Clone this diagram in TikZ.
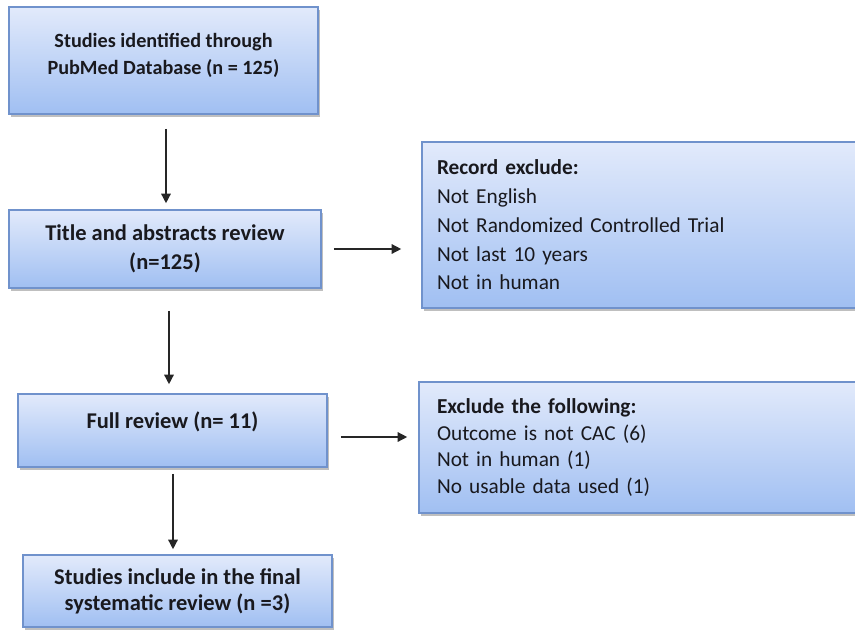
\documentclass[tikz,border=0pt]{standalone}
\usepackage{fontspec}
\setmainfont{Carlito}
\usetikzlibrary{shadows,arrows.meta}
\definecolor{boxtop}{RGB}{226,234,251}
\definecolor{boxbot}{RGB}{160,191,242}
\definecolor{boxline}{RGB}{112,146,204}
\definecolor{txt}{RGB}{25,25,30}
\begin{document}
\begin{tikzpicture}[x=1pt,y=-1pt,
  fbox/.style={rectangle, draw=boxline, line width=1.6pt, top color=boxtop, bottom color=boxbot,
    drop shadow={shadow xshift=2pt, shadow yshift=-3pt, fill=black!55, opacity=0.45},
    text=txt, inner sep=0pt},
  mainbox/.style={fbox, align=center, font=\bfseries\fontsize{22.5}{29}\selectfont},
  sidebox/.style={fbox, align=left, text width=#1, font=\fontsize{21.3}{28.7}\selectfont},
  arr/.style={draw=black!85, line width=1.4pt, -{Triangle[length=9.5pt,width=9.5pt]}}]
\clip (0,0) rectangle (855,630);
\fill[white] (0,0) rectangle (855,630);
\node[mainbox, minimum width=309pt, minimum height=107pt, font=\bfseries\fontsize{20.2}{27}\selectfont] (b1) at (163.5,60.5)
  {Studies identified through\\PubMed Database (n = 125)\\[-13pt]};
\node[mainbox, minimum width=312pt, minimum height=78pt] (b2) at (165,249)
  {Title and abstracts review\\(n=125)};
\node[mainbox, minimum width=309pt, minimum height=73pt] (b3) at (172.5,430.5)
  {Full review (n= 11)\\[-9pt]};
\node[mainbox, minimum width=309pt, minimum height=72pt, font=\bfseries\fontsize{22.5}{26}\selectfont] (b4) at (177.5,591)
  {Studies include in the final\\systematic review (n =3)};
\node[sidebox=430pt, minimum width=460pt, minimum height=166pt] (r1) at (652,225)
  {\textbf{Record exclude:}\\Not English\\Not Randomized Controlled Trial\\Not last 10 years\\Not in human};
\node[sidebox=425pt, minimum width=461pt, minimum height=131pt, font=\fontsize{21.3}{26.7}\selectfont] (r2) at (649.5,447.5)
  {\textbf{Exclude the following:}\\Outcome is not CAC (6)\\Not in human (1)\\No usable data used (1)};
\coordinate (a3) at ([yshift=-6.5pt]b3.east);
\draw[arr, shorten <=14pt, shorten >=6pt] (b1.south -| 166,0) -- (b2.north -| 166,0);
\draw[arr, shorten <=22pt, shorten >=9pt] (b2.south -| 169,0) -- (b3.north -| 169,0);
\draw[arr, shorten <=6pt, shorten >=5pt] (b3.south -| 173,0) -- (b4.north -| 173,0);
\draw[arr, shorten <=12pt, shorten >=20pt] (b2.east) -- (r1.west |- b2.east);
\draw[arr, shorten <=13pt, shorten >=11pt] (a3) -- (r2.west |- a3);
\end{tikzpicture}
\end{document}
